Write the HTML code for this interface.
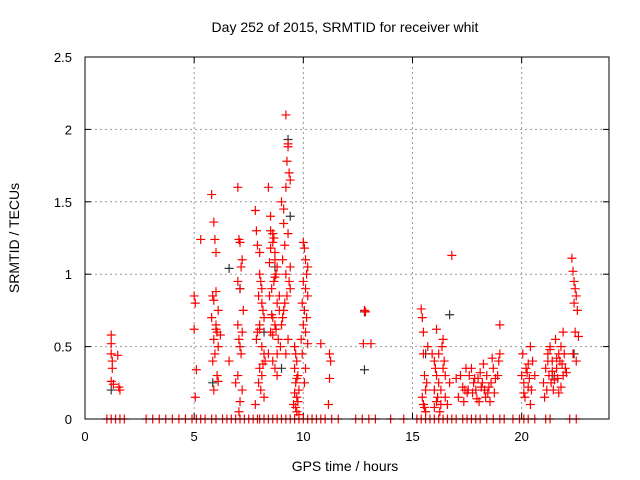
<!DOCTYPE html>
<html><head><meta charset="utf-8"><style>
html,body{margin:0;padding:0;background:#fff}
svg{display:block;font-family:"Liberation Sans",sans-serif}
</style></head><body>
<svg id="chart" width="640" height="480">
<rect width="640" height="480" fill="#fff"/>
<text x="345" y="32" font-size="14" text-anchor="middle">Day 252 of 2015, SRMTID for receiver whit</text>
<text x="345" y="471" font-size="14" text-anchor="middle">GPS time / hours</text>
<text transform="translate(19,238) rotate(-90)" font-size="14" text-anchor="middle">SRMTID / TECUs</text>
<g id="grid"></g><g id="axes"></g><g id="zeros"></g><g id="marks"></g>
<rect x="85" y="57" width="524" height="362" fill="none" stroke="#000"/>
</svg>
<script>
const xTicks=[0,5,10,15,20];
const yTicks=[0,0.5,1,1.5,2,2.5];
const yTickLabels=["0","0.5","1","1.5","2","2.5"];
const redHours=[1.2,1.2,1.2,1.25,1.25,1.2,1.3,1.5,1.6,1.55,
5.0,5.05,5.0,5.1,5.05,5.3,
5.8,5.9,5.95,6.0,6.0,5.85,5.9,6.1,5.8,6.0,6.05,5.9,6.1,5.95,5.85,6.05,6.1,5.9,6.0,6.2,
6.6,7.0,7.05,7.1,7.2,7.15,7.0,7.1,7.25,7.0,7.2,7.05,7.1,7.15,7.0,6.9,7.2,7.1,7.05,
7.8,7.85,7.9,8.0,8.0,8.05,8.1,7.95,8.1,8.15,8.2,8.0,7.9,7.85,8.1,8.2,8.25,8.0,8.1,7.95,8.05,8.2,7.8,8.15,8.0,
8.4,8.5,8.5,8.6,8.6,8.7,8.7,8.8,8.75,8.65,8.55,8.45,8.8,8.9,8.6,8.7,8.5,8.85,8.95,8.4,8.6,8.7,8.8,8.5,8.65,8.9,8.55,8.75,8.45,8.6,8.8,8.7,
9.0,9.1,9.2,9.3,9.3,9.25,9.35,9.4,9.2,9.1,9.3,9.15,9.05,9.2,9.35,9.4,9.25,9.1,9.0,9.3,9.2,9.4,9.15,9.05,
9.6,9.65,9.7,9.6,9.75,9.7,9.65,9.8,9.6,9.7,9.75,9.55,9.65,9.7,9.8,
10.0,10.05,10.1,10.2,10.15,10.0,10.1,10.2,9.95,10.05,10.15,10.0,10.1,9.9,10.2,10.1,10.05,9.95,
10.8,11.2,11.25,11.2,11.15,12.8,12.85,12.75,13.1,
15.4,15.45,15.5,15.5,15.55,15.6,15.45,15.5,15.6,15.65,15.55,15.7,
15.9,16.0,16.05,16.1,16.2,16.0,16.15,16.3,16.25,16.1,16.4,16.35,16.2,16.45,16.5,16.3,16.1,16.0,16.5,16.6,16.4,16.8,16.7,
17.0,17.2,17.3,17.4,17.5,17.6,17.7,17.8,17.9,18.0,18.1,18.2,18.3,18.4,18.5,18.6,18.7,18.8,18.9,19.0,
17.1,17.35,17.55,17.75,17.95,18.15,18.35,18.55,18.75,18.95,17.45,17.85,18.25,18.65,18.45,18.05,19.0,
20.0,20.1,20.2,20.3,20.4,20.5,20.15,20.35,20.05,20.45,20.25,20.4,20.6,20.1,20.3,
21.0,21.1,21.2,21.3,21.4,21.5,21.6,21.7,21.8,21.9,22.0,21.15,21.35,21.55,21.75,21.95,21.25,21.45,21.65,21.85,21.05,21.4,21.6,21.8,21.3,21.5,21.7,21.2,21.9,22.05,
22.3,22.35,22.4,22.45,22.5,22.4,22.55,22.45,22.6,22.35,22.5];
const redValues=[0.58,0.52,0.45,0.4,0.35,0.26,0.24,0.44,0.2,0.22,
0.85,0.8,0.62,0.34,0.15,1.24,
1.55,1.36,1.24,1.15,0.88,0.85,0.82,0.75,0.7,0.65,0.6,0.55,0.5,0.45,0.4,0.3,0.26,0.2,0.62,0.58,
0.4,1.6,1.24,1.22,1.1,1.05,0.95,0.9,0.75,0.65,0.6,0.55,0.5,0.45,0.3,0.25,0.2,0.12,0.05,
1.44,1.3,1.2,1.15,1.0,0.95,0.9,0.85,0.8,0.75,0.7,0.65,0.6,0.55,0.5,0.45,0.4,0.35,0.3,0.25,0.2,0.15,0.1,0.38,0.62,
1.6,1.4,1.3,1.28,1.22,1.15,1.1,1.05,1.0,0.95,0.9,0.85,0.8,0.75,0.7,0.65,0.6,0.55,0.5,0.45,0.4,0.35,0.3,1.18,1.25,0.85,0.72,0.62,1.08,0.58,0.45,0.98,
1.5,1.45,2.1,1.9,1.88,1.78,1.7,1.65,1.6,1.35,1.28,1.2,1.1,1.0,0.95,0.9,0.85,0.75,0.65,0.55,0.45,1.05,0.8,0.7,
0.5,0.45,0.4,0.35,0.3,0.28,0.25,0.2,0.18,0.15,0.12,0.1,0.08,0.05,0.03,
1.22,1.18,1.1,1.05,1.0,0.95,0.9,0.85,0.8,0.75,0.7,0.65,0.6,0.55,0.52,0.35,0.25,0.45,
0.52,0.45,0.4,0.28,0.1,0.75,0.74,0.52,0.52,
0.76,0.7,0.6,0.45,0.3,0.2,0.15,0.1,0.05,0.25,0.08,0.5,
0.45,0.4,0.35,0.3,0.25,0.2,0.15,0.1,0.05,0.62,0.55,0.5,0.45,0.4,0.3,0.2,0.12,0.08,0.15,0.1,0.35,1.13,0.25,
0.28,0.3,0.22,0.2,0.18,0.3,0.35,0.25,0.2,0.28,0.32,0.25,0.2,0.3,0.22,0.25,0.35,0.28,0.3,0.65,
0.15,0.12,0.2,0.18,0.14,0.22,0.15,0.12,0.18,0.4,0.35,0.28,0.38,0.42,0.18,0.12,0.45,
0.3,0.25,0.35,0.22,0.5,0.4,0.15,0.28,0.45,0.2,0.32,0.1,0.3,0.18,0.38,
0.25,0.35,0.45,0.5,0.4,0.3,0.35,0.45,0.5,0.3,0.35,0.2,0.25,0.55,0.4,0.45,0.3,0.2,0.28,0.38,0.15,0.33,0.42,0.22,0.48,0.27,0.18,0.4,0.6,0.32,
1.11,1.02,0.95,0.9,0.85,0.8,0.75,0.6,0.57,0.45,0.4];
const darkHours=[1.2,5.85,6.6,7.1,8.7,9.3,9.4,9.0,12.8,12.8,16.7,15.6,18.3,21.4,22.4,8.2];
const darkValues=[0.2,0.25,1.04,0.9,1.05,1.93,1.4,0.35,0.74,0.34,0.72,0.45,0.2,0.3,0.45,0.6];
const zeroHours=[1.0,1.2,1.4,1.6,1.8,2.8,3.1,3.4,3.7,4.0,4.3,4.6,4.9,5.1,5.3,5.5,5.8,6.0,6.3,6.5,6.7,6.9,7.1,7.3,7.5,7.7,7.9,8.0,8.2,8.4,8.6,8.8,9.0,9.2,9.4,9.6,9.8,10.0,10.2,10.4,10.6,10.8,11.0,11.3,11.6,12.4,12.7,13.0,13.3,14.0,14.6,15.2,15.4,15.6,15.8,16.0,16.2,16.4,16.6,16.8,17.0,17.3,17.5,17.7,17.9,18.1,18.4,18.7,19.0,19.2,19.6,19.9,20.1,20.3,20.6,21.1,21.3,22.2,22.5];
const NS="http://www.w3.org/2000/svg";
const X0=85,X1=609,Y0=419,Y1=57,XMAX=24,YMAX=2.5;
function xs(h){return X0+(X1-X0)*h/XMAX;}
function ys(v){return Y0-(Y0-Y1)*v/YMAX;}
function mk(tag,attrs,parent){const e=document.createElementNS(NS,tag);for(const k in attrs)e.setAttribute(k,attrs[k]);parent.appendChild(e);return e;}
const grid=document.getElementById('grid'),axes=document.getElementById('axes'),marks=document.getElementById('marks'),zeros=document.getElementById('zeros');
xTicks.forEach(t=>{const x=xs(t);
 if(t>0){const g=mk('line',{x1:x,x2:x,y1:Y1,y2:Y0,stroke:'#999','stroke-dasharray':'2,3'},grid);
 
 }
 mk('line',{x1:x,x2:x,y1:Y0,y2:Y0-6,stroke:'#000'},axes);
 mk('line',{x1:x,x2:x,y1:Y1,y2:Y1+6,stroke:'#000'},axes);
 const tl=mk('text',{x:x,y:441,'font-size':13,'text-anchor':'middle'},axes);tl.textContent=t;
 
 
});
yTicks.forEach((t,i)=>{const y=ys(t);
 if(t>0&&t<YMAX){const g=mk('line',{x1:X0,x2:X1,y1:y,y2:y,stroke:'#999','stroke-dasharray':'2,3'},grid);
 
 }
 mk('line',{x1:X0,x2:X0+6,y1:y,y2:y,stroke:'#000'},axes);
 mk('line',{x1:X1,x2:X1-6,y1:y,y2:y,stroke:'#000'},axes);
 const tl=mk('text',{x:72,y:y+5,'font-size':13,'text-anchor':'end'},axes);tl.textContent=yTickLabels[i];
 
 
});
function plus(h,v,color,parent){const x=xs(h),y=ys(v);
 const p=mk('path',{d:`M${x-4.5},${y}h9M${x},${y-4.5}v9`,stroke:color,'stroke-width':1.2,fill:'none'},parent);
 
 }
zeroHours.forEach(h=>plus(h,0,'#f00',zeros));
darkHours.forEach((h,i)=>plus(h,darkValues[i],'#333',marks));
redHours.forEach((h,i)=>plus(h,redValues[i],'#f00',marks));
</script>
</body></html>
